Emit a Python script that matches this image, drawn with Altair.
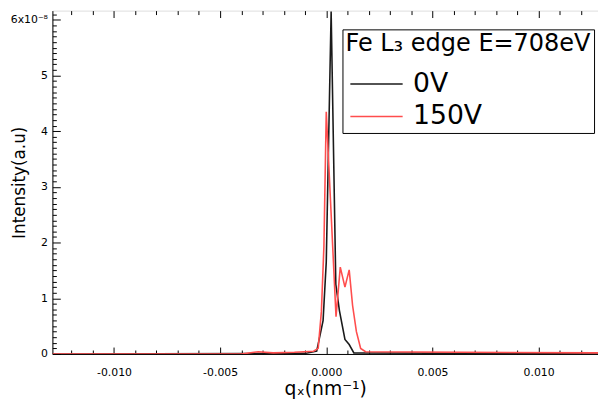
import altair as alt
import pandas as pd

# ---- data (q in nm^-1, intensity in units of 1e-8) ----
series_names = ["0V", "150V"]
series_colors = ["#1a1a1a", "#ff4d4d"]

q_0V = [-0.0129, -0.0010, -0.00045, -0.00015, 0.0, 0.00023, 0.00045,
        0.00062, 0.00088, 0.00108, 0.0013, 0.0129]
i_0V = [0.0, 0.01, 0.05, 0.6, 1.65, 6.15, 1.25, 0.78, 0.26, 0.17, 0.02, 0.0]

q_150V = [-0.0129, -0.0040, -0.0032, -0.0025, -0.0015, -0.0006, -0.00038,
          -0.00023, -0.00011, 0.0, 0.00046, 0.00066, 0.00088, 0.00108,
          0.00124, 0.00142, 0.00162, 0.00185, 0.0129]
i_150V = [0.0, 0.0, 0.04, 0.02, 0.03, 0.05, 0.1, 0.76, 1.94, 4.35, 0.67,
          1.56, 1.2, 1.51, 0.87, 0.4, 0.1, 0.04, 0.02]

x_ticks = [-0.012, -0.011, -0.010, -0.009, -0.008, -0.007, -0.006, -0.005,
           -0.004, -0.003, -0.002, -0.001, 0.0, 0.001, 0.002, 0.003, 0.004,
           0.005, 0.006, 0.007, 0.008, 0.009, 0.010, 0.011, 0.012]
x_labels = [-0.010, -0.005, 0.0, 0.005, 0.010]
y_ticks = [round(k * 0.1, 1) for k in range(0, 62)]
y_labels = [0, 1, 2, 3, 4, 5, 6]

x_domain = [-0.0129, 0.0128]
y_domain = [0, 6.165]

W, H = 553, 348
FONT = "DejaVu Sans"

rows = []
for name, qs, vals in [("0V", q_0V, i_0V), ("150V", q_150V, i_150V)]:
    for q, v in zip(qs, vals):
        rows.append({"q": q, "I": v, "series": name})
df = pd.DataFrame(rows)

xscale = alt.Scale(domain=x_domain, nice=False, zero=False)
yscale = alt.Scale(domain=y_domain, nice=False, zero=False)

x_major_test = "abs(datum.value*200 - round(datum.value*200)) < 0.01"
y_major_test = "abs(datum.value - round(datum.value)) < 0.01"

lines = alt.Chart(df).mark_line(strokeWidth=1.6, clip=True).encode(
    x=alt.X("q:Q", scale=xscale,
            axis=alt.Axis(values=x_labels, ticks=False, grid=False,
                          labelExpr="replace(format(datum.value, '.3f'), '\u2212', '-')",
                          labelFont=FONT, labelFontSize=11, labelColor="black",
                          labelPadding=13, domainColor="black",
                          title="q\u2093(nm\u207b\u00b9)", titleFont=FONT,
                          titleFontSize=19, titleFontWeight="normal",
                          titleColor="black", titleBaseline="middle",
                          titleY=35)),
    y=alt.Y("I:Q", scale=yscale,
            axis=alt.Axis(values=y_labels, ticks=False, grid=False,
                          labelExpr="datum.value > 5.5 ? '6x10\u207b\u2078' : format(datum.value, 'd')",
                          labelFont=FONT, labelFontSize=11, labelColor="black",
                          labelPadding=5, domainColor="black",
                          title="Intensity(a.u)", titleFont=FONT,
                          titleFontSize=17, titleFontWeight="normal",
                          titleColor="black", titleBaseline="middle",
                          titleX=-33, titleY=H / 2, titleAngle=270)),
    color=alt.Color("series:N",
                    scale=alt.Scale(domain=series_names, range=series_colors),
                    legend=alt.Legend(title="Fe L\u2083 edge E=708eV",
                                      orient="none", legendX=294, legendY=19,
                                      titleFont=FONT, titleFontSize=24.3,
                                      titleFontWeight="normal", titleColor="black",
                                      titleLimit=500, labelLimit=300,
                                      labelFont=FONT, labelFontSize=27,
                                      labelColor="black",
                                      symbolType="M-2,0H2", symbolSize=702,
                                      symbolStrokeWidth=1.5, symbolOffset=17.5,
                                      labelOffset=23, rowPadding=6,
                                      titlePadding=14,
                                      strokeColor="black", fillColor="white",
                                      padding=3)),
)

tick_axis_x_bottom = alt.Axis(orient="top", offset=-H, values=x_ticks,
                              labels=False, domain=False, grid=False, title=None,
                              tickColor="black", tickWidth=1,
                              tickSize={"condition": {"test": x_major_test, "value": 7}, "value": 4})
tick_axis_x_top = alt.Axis(orient="bottom", offset=-H, values=x_ticks,
                           labels=False, domain=False, grid=False, title=None,
                           tickColor="black", tickWidth=1,
                           tickSize={"condition": {"test": x_major_test, "value": 7}, "value": 4})
tick_axis_y_left = alt.Axis(orient="right", offset=-W, values=y_ticks,
                            labels=False, domain=False, grid=False, title=None,
                            tickColor="black", tickWidth=1,
                            tickSize={"condition": {"test": y_major_test, "value": 8}, "value": 4})

ticks1 = alt.Chart(df).mark_point(opacity=0).encode(
    x=alt.X("q:Q", scale=xscale, axis=tick_axis_x_bottom),
    y=alt.Y("I:Q", scale=yscale, axis=tick_axis_y_left),
)
ticks2 = alt.Chart(df).mark_point(opacity=0).encode(
    x=alt.X("q:Q", scale=xscale, axis=tick_axis_x_top),
    y=alt.Y("I:Q", scale=yscale, axis=None),
)

chart = alt.layer(lines, ticks1, ticks2).resolve_axis(
    x="independent", y="independent"
).properties(
    width=W, height=H,
    autosize=alt.AutoSizeParams(type="none"),
    padding={"left": 45, "top": 0, "right": 0, "bottom": 44},
).configure_view(stroke="black", strokeWidth=1).configure(background="white")

chart.save("out.html", embed_options={"renderer": "svg", "actions": False})
